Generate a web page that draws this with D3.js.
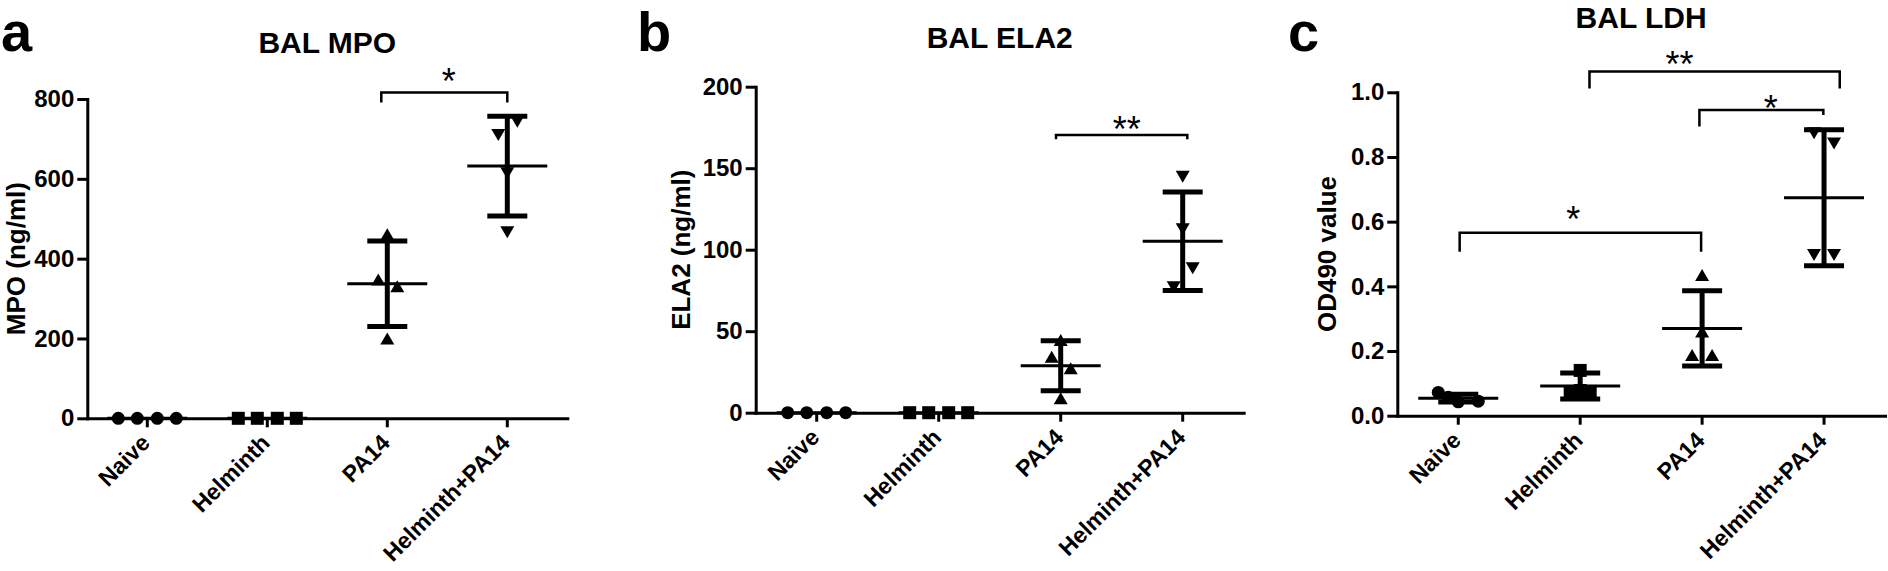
<!DOCTYPE html>
<html><head><meta charset="utf-8">
<script src="https://cdn.jsdelivr.net/npm/d3@7"></script>
<style>body{margin:0;background:#fff}svg{display:block}</style>
</head><body>
<svg id="chart" width="1888" height="571"></svg>
<script>
// ---------- DATA ----------
const groups = ["Naive", "Helminth", "PA14", "Helminth+PA14"];

// Panel a: BAL MPO (ng/ml)
const mpoNaive    = [0, 0, 0, 0];
const mpoHelminth = [0, 0, 0, 0];
const mpoPA14     = [461, 348, 331, 200];
const mpoHelPA14  = [743, 710, 614, 466];
const mpoMean     = [0, 0, 337, 632];
const mpoSD       = [0, 0, 107, 125];
const mpoTicks    = [0, 200, 400, 600, 800];

// Panel b: BAL ELA2 (ng/ml)
const elaNaive    = [0, 0, 0, 0];
const elaHelminth = [0, 0, 0, 0];
const elaPA14     = [44.6, 34.4, 27.2, 8.8];
const elaHelPA14  = [144.8, 112.5, 88.6, 76.9];
const elaMean     = [0, 0, 28.8, 105.2];
const elaSD       = [0, 0, 15.3, 30.2];
const elaTicks    = [0, 50, 100, 150, 200];

// Panel c: BAL LDH (OD490)
const ldhNaive    = [0.072, 0.057, 0.043, 0.045];
const ldhHelminth = [0.140, 0.075, 0.078, 0.075];
const ldhPA14     = [0.435, 0.260, 0.188, 0.188];
const ldhHelPA14  = [0.873, 0.842, 0.497, 0.497];
const ldhMean     = [0.054, 0.092, 0.270, 0.674];
const ldhSD       = [0.012, 0.040, 0.116, 0.210];
const ldhTicks    = [0, 0.2, 0.4, 0.6, 0.8, 1.0];

// significance brackets (values in data units)
const mpoSig = [{from: 2, to: 3, label: "*",  bar: 816,   legFrom: 791,   legTo: 791}];
const elaSig = [{from: 2, to: 3, label: "**", bar: 170.4, legFrom: 167.7, legTo: 167.7}];
const ldhSig = [
  {from: 0, to: 2, label: "*",  bar: 0.566, legFrom: 0.507, legTo: 0.507},
  {from: 1, to: 3, label: "**", bar: 1.064, legFrom: 1.012, legTo: 1.012},
  {from: 2, to: 3, label: "*",  bar: 0.945, legFrom: 0.894, legTo: 0.930}
];

// ---------- LAYOUT ----------
const FONT = "'Liberation Sans', Arial, Helvetica, sans-serif";
const shapes = ["circle", "square", "triangle", "triangleDown"];
const spread4 = [-29, -10, 10, 29];

const panels = [
  {letter: "a", title: "BAL MPO", yLabel: "MPO (ng/ml)",
   series: [mpoNaive, mpoHelminth, mpoPA14, mpoHelPA14], mean: mpoMean, sd: mpoSD,
   ticks: mpoTicks, fmt: d3.format("d"), domain: [0, 800], sig: mpoSig,
   L: {x0: 87.3, x1: 567.3, yTop: 99, yBot: 418.3, letterX: 1, titleY: 53, yLabelX: 25,
       jitter: [spread4, spread4, [0, -9, 10, 0], [10, -9, 0, 0]],
       sig: [{dxFrom: -6, dxTo: 0, starDx: 4.5, starDy: -19.7}]}},
  {letter: "b", title: "BAL ELA2", yLabel: "ELA2 (ng/ml)",
   series: [elaNaive, elaHelminth, elaPA14, elaHelPA14], mean: elaMean, sd: elaSD,
   ticks: elaTicks, fmt: d3.format("d"), domain: [0, 200], sig: elaSig,
   L: {x0: 755.7, x1: 1243.7, yTop: 86.7, yBot: 412.7, letterX: 637, titleY: 48, yLabelX: 690,
       jitter: [spread4, spread4, [0, -9, 10, 0], [0, 0, 10, -9]],
       sig: [{dxFrom: -4.7, dxTo: 4.6, starDx: 5, starDy: -13.3}]}},
  {letter: "c", title: "BAL LDH", yLabel: "OD490 value",
   series: [ldhNaive, ldhHelminth, ldhPA14, ldhHelPA14], mean: ldhMean, sd: ldhSD,
   ticks: ldhTicks, fmt: d3.format(".1f"), domain: [0, 1], sig: ldhSig,
   L: {x0: 1397.3, x1: 1885, yTop: 92.3, yBot: 415.7, letterX: 1288, titleY: 28, yLabelX: 1336,
       jitter: [[-20, -10, 0, 20], [0, -10, 0, 10], [0, 0, -10, 10], [-10, 10, -10, 10]],
       sig: [{dxFrom: 1.4, dxTo: -1, starDx: -7.2, starDy: -21},
             {dxFrom: 9.3, dxTo: 15.7, starDx: -35, starDy: -15},
             {dxFrom: -2.7, dxTo: -0.7, starDx: 9.5, starDy: -10}]}}
];

// ---------- DRAW ----------
const svg = d3.select("#chart");

function marker(sel, shape, px, py) {
  if (shape === "circle") {
    sel.append("circle").attr("cx", px).attr("cy", py).attr("r", 6.5).attr("fill", "#000");
  } else if (shape === "square") {
    sel.append("rect").attr("x", px - 6.5).attr("y", py - 6.5).attr("width", 13).attr("height", 13).attr("fill", "#000");
  } else if (shape === "triangle") {
    sel.append("path").attr("d", `M${px - 7},${py + 6}L${px + 7},${py + 6}L${px},${py - 6}Z`).attr("fill", "#000");
  } else {
    sel.append("path").attr("d", `M${px - 7},${py - 6}L${px + 7},${py - 6}L${px},${py + 6}Z`).attr("fill", "#000");
  }
}

panels.forEach(p => {
  const L = p.L;
  const g = svg.append("g");
  const x = d3.scaleBand().domain(groups).range([L.x0, L.x1]);
  const y = d3.scaleLinear().domain(p.domain).range([L.yBot, L.yTop]);
  const cx = k => x(groups[k]) + x.bandwidth() / 2;

  // panel letter
  g.append("text").attr("x", L.letterX).attr("y", 51)
    .attr("font-family", FONT).attr("font-weight", "bold").attr("font-size", 56)
    .text(p.letter);

  // title
  g.append("text").attr("x", (L.x0 + L.x1) / 2).attr("y", L.titleY)
    .attr("text-anchor", "middle")
    .attr("font-family", FONT).attr("font-weight", "bold").attr("font-size", 30)
    .text(p.title);

  // y axis label
  g.append("text")
    .attr("transform", `translate(${L.yLabelX},${(L.yTop + L.yBot) / 2}) rotate(-90)`)
    .attr("text-anchor", "middle")
    .attr("font-family", FONT).attr("font-weight", "bold").attr("font-size", 26)
    .text(p.yLabel);

  // y axis
  const ya = g.append("g").attr("transform", `translate(${L.x0},0)`)
    .call(d3.axisLeft(y).tickValues(p.ticks).tickFormat(p.fmt).tickSize(10).tickPadding(3).tickSizeOuter(0));
  ya.select(".domain").attr("stroke-width", 3).attr("stroke-linecap", "square");
  ya.selectAll(".tick line").attr("stroke-width", 3);
  ya.selectAll(".tick text")
    .attr("font-family", FONT).attr("font-weight", "bold").attr("font-size", 24);

  // x axis
  const xa = g.append("g").attr("transform", `translate(0,${L.yBot})`)
    .call(d3.axisBottom(x).tickSize(9).tickSizeOuter(0));
  xa.select(".domain").attr("stroke-width", 3).attr("stroke-linecap", "square");
  xa.selectAll(".tick line").attr("stroke-width", 3);
  xa.selectAll(".tick text")
    .attr("x", 0).attr("y", 0).attr("dy", 0)
    .attr("text-anchor", "end")
    .attr("transform", "translate(4,26) rotate(-45)")
    .attr("font-family", FONT).attr("font-weight", "bold").attr("font-size", 23);

  // points
  const pts = g.append("g");
  p.series.forEach((vals, k) => {
    vals.forEach((v, i) => marker(pts, shapes[k], cx(k) + L.jitter[k][i], y(v)));
  });

  // mean & SD
  const eb = g.append("g").attr("stroke", "#000").attr("fill", "none");
  p.mean.forEach((m, k) => {
    const c = cx(k);
    eb.append("line").attr("x1", c - 40).attr("x2", c + 40).attr("y1", y(m)).attr("y2", y(m)).attr("stroke-width", 3);
    if (p.sd[k] > 0) {
      const hi = y(m + p.sd[k]), lo = y(m - p.sd[k]);
      eb.append("line").attr("x1", c).attr("x2", c).attr("y1", hi).attr("y2", lo).attr("stroke-width", 5);
      eb.append("line").attr("x1", c - 20).attr("x2", c + 20).attr("y1", hi).attr("y2", hi).attr("stroke-width", 5);
      eb.append("line").attr("x1", c - 20).attr("x2", c + 20).attr("y1", lo).attr("y2", lo).attr("stroke-width", 5);
    }
  });

  // significance brackets
  p.sig.forEach((s, i) => {
    const lay = L.sig[i];
    const xl = cx(s.from) + lay.dxFrom, xr = cx(s.to) + lay.dxTo;
    const yb = y(s.bar);
    g.append("path")
      .attr("d", `M${xl},${y(s.legFrom)}V${yb}H${xr}V${y(s.legTo)}`)
      .attr("fill", "none").attr("stroke", "#000").attr("stroke-width", 2.5);
    g.append("text")
      .attr("x", (xl + xr) / 2 + lay.starDx).attr("y", yb + lay.starDy + 20.7)
      .attr("text-anchor", "middle")
      .attr("font-family", FONT).attr("font-size", 36)
      .text(s.label);
  });
});
</script>
</body></html>
